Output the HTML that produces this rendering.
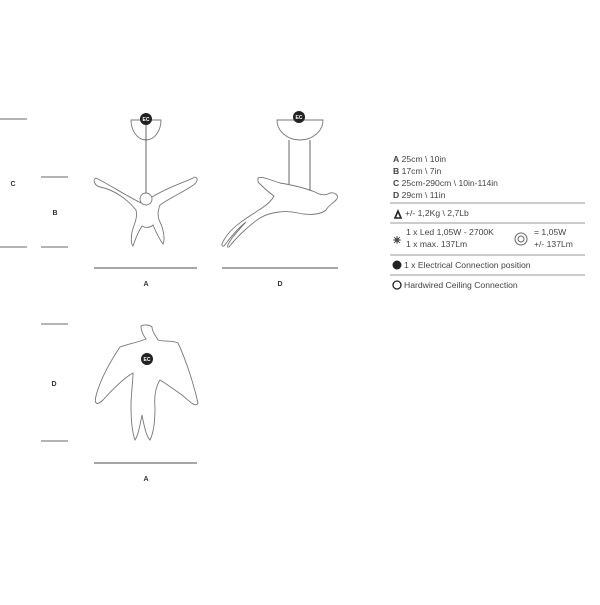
<!DOCTYPE html>
<html><head><style>
body{margin:0;background:#fff;width:600px;height:600px;overflow:hidden;font-family:"Liberation Sans",sans-serif}
</style></head><body>
<svg width="600" height="600" viewBox="0 0 600 600" xmlns="http://www.w3.org/2000/svg" font-family="Liberation Sans, sans-serif">
<g stroke="#888" stroke-width="1.2">
<line x1="0" y1="119" x2="27" y2="119"/><line x1="0" y1="247" x2="27" y2="247"/>
<line x1="41" y1="177" x2="68" y2="177"/><line x1="41" y1="247" x2="68" y2="247"/>
<line x1="41" y1="324" x2="68" y2="324"/><line x1="41" y1="441" x2="68" y2="441"/>
<line x1="94" y1="268" x2="197" y2="268" stroke-width="1.6"/>
<line x1="222" y1="268" x2="338" y2="268" stroke-width="1.6"/>
<line x1="94" y1="463" x2="197" y2="463" stroke-width="1.6"/>
</g>
<g font-size="7" font-weight="bold" fill="#333" text-anchor="middle">
<text x="13" y="186">C</text><text x="55" y="215">B</text><text x="54" y="386">D</text>
<text x="146" y="286">A</text><text x="280" y="286">D</text><text x="146" y="481">A</text>
</g>
<g fill="none" stroke="#777" stroke-width="0.9">
<path d="M131 120 H161 A15 20 0 0 1 131 120 Z"/>
<line x1="146" y1="125" x2="146" y2="193" stroke="#555"/>
<circle cx="146" cy="199" r="6"/>
<path d="M141 203 C125 195 110 185 96 178 C92 180 95 186 100 187 C115 190 128 200 136 210 C138 218 134 224 132 232 C131 238 131 244 133 246 C135 240 138 232 142 226 C145 228 150 228 153 225 C156 232 160 240 163 244 C165 240 164 230 160 222 C157 216 158 210 160 205 C170 198 183 192 192 186 C197 183 199 178 195 177 C186 182 170 186 152 197"/>
<path d="M277 120 A23 20 0 0 0 323 120 Z"/>
<line x1="289" y1="140" x2="289" y2="184" stroke="#555"/>
<line x1="310" y1="140" x2="310" y2="191" stroke="#555"/>
<path d="M258 178 C262 176 270 180 280 183 C292 185 305 188 315 192 C320 195 325 196 330 193 C335 192 340 196 336 200 C332 204 328 206 326 210 C322 214 310 216 298 213 C285 210 270 212 260 218 C248 226 236 238 229 247 C226 248 228 244 232 238 C237 232 242 226 246 222 C238 228 230 238 224 246 C220 247 222 242 228 234 C236 224 250 216 262 208 C268 204 272 200 274 196 C268 192 262 186 258 182 Z"/>
<path d="M141 326 C144 324 150 325 152 327 C152 332 156 336 158 340 C164 342 172 340 178 343 C186 360 194 385 198 403 C196 408 190 402 182 395 C172 388 165 383 160 380 C156 386 154 396 155 408 C155 420 154 432 150 440 C146 436 144 425 142 415 C140 425 138 436 135 440 C132 432 131 418 131 405 C131 394 133 382 133 373 C124 378 112 390 103 400 C97 406 94 404 96 396 C100 380 110 362 120 347 C128 344 136 343 146 339 C143 335 141 330 141 326 Z"/>
</g>
<g fill="#222">
<circle cx="146" cy="119" r="6"/><circle cx="299" cy="117" r="6"/><circle cx="147" cy="359" r="6"/>
</g>
<g fill="#fff" font-size="5" font-weight="bold" text-anchor="middle">
<text x="146" y="121">EC</text><text x="299" y="119">EC</text><text x="147" y="361">EC</text>
</g>
<g font-size="8.6" fill="#444">
<text x="393" y="162"><tspan font-weight="bold">A</tspan>  25cm \ 10in</text>
<text x="393" y="174"><tspan font-weight="bold">B</tspan>  17cm \ 7in</text>
<text x="393" y="186"><tspan font-weight="bold">C</tspan>  25cm-290cm \ 10in-114in</text>
<text x="393" y="198"><tspan font-weight="bold">D</tspan>  29cm \ 11in</text>
<text x="405" y="216">+/- 1,2Kg \ 2,7Lb</text>
<text x="406" y="235">1 x Led 1,05W - 2700K</text>
<text x="406" y="247">1 x max. 137Lm</text>
<text x="534" y="235">= 1,05W</text>
<text x="534" y="247">+/- 137Lm</text>
<text x="404" y="268">1 x Electrical Connection position</text>
<text x="404" y="288">Hardwired Ceiling Connection</text>
</g>
<g stroke="#999" stroke-width="1">
<line x1="390" y1="203" x2="585" y2="203"/><line x1="390" y1="223" x2="585" y2="223"/>
<line x1="390" y1="255" x2="585" y2="255"/><line x1="390" y1="275" x2="585" y2="275"/>
</g>
<path d="M395 218 L398 211 L401 218 Z" fill="none" stroke="#222" stroke-width="1.6"/>
<g stroke="#444" stroke-width="0.8"><circle cx="397" cy="240" r="2" fill="none"/>
<line x1="393" y1="240" x2="401" y2="240"/><line x1="397" y1="236" x2="397" y2="244"/>
<line x1="394" y1="237" x2="400" y2="243"/><line x1="400" y1="237" x2="394" y2="243"/></g>
<circle cx="521" cy="239" r="6" fill="none" stroke="#666"/><circle cx="521" cy="239" r="3" fill="none" stroke="#666"/>
<circle cx="397" cy="265" r="4.5" fill="#222"/>
<circle cx="397" cy="285" r="4" fill="none" stroke="#222" stroke-width="1.3"/>
</svg>
</body></html>
